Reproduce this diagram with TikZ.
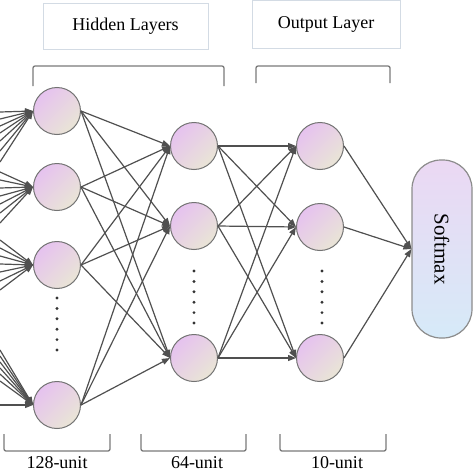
\documentclass[tikz,border=0pt]{standalone}
\usepackage{fontspec}
\setmainfont{Liberation Serif}
\usetikzlibrary{arrows.meta}
\definecolor{nTop}{HTML}{E6C2EF}
\definecolor{nBot}{HTML}{E9E5D6}
\definecolor{sTop}{HTML}{EBD8F3}
\definecolor{sBot}{HTML}{D6EAF8}
\definecolor{lineC}{HTML}{505050}
\definecolor{brC}{HTML}{7A7A7A}
\definecolor{boxC}{HTML}{D3DBE4}
\begin{document}
\begin{tikzpicture}[x=1pt,y=-1pt,
  neuron/.style={circle, draw=black!55, line width=1pt, minimum size=47pt, inner sep=0pt,
    top color=nTop, bottom color=nBot, shading angle=45},
  conn/.style={draw=lineC, line width=1.2pt, -{Triangle[length=8pt,width=6pt]}},
  bracketline/.style={draw=brC, line width=1.3pt, rounded corners=2pt},
  titlebox/.style={draw=boxC, line width=1pt, fill=white, inner sep=0pt},
  lbl/.style={font=\fontsize{18}{20}\selectfont, inner sep=0pt},
  softbox/.style={draw=black!45, line width=1.2pt, rounded corners=29pt, minimum width=60pt,
    minimum height=178pt, inner sep=0pt, top color=sTop, bottom color=sBot},
  dotnode/.style={circle, fill=black!80, minimum size=3.2pt, inner sep=0pt}
]
\fill[white] (0,0) rectangle (474,474);
\useasboundingbox (0,0) rectangle (474,474);

% title boxes
\node[titlebox, minimum width=165pt, minimum height=46pt] (hbox) at (125.5,26) {};
\node[lbl] (htxt) at (hbox) {Hidden Layers};
\node[titlebox, minimum width=148pt, minimum height=48pt] (obox) at (326,24) {};
\node[lbl] (otxt) at (obox) {Output Layer};

% top brackets
\draw[bracketline] (33,86) -- (33,66) -- (224,66) -- (224,86);
\draw[bracketline] (256,83) -- (256,66) -- (390,66) -- (390,83);

% bottom brackets
\draw[bracketline] (4,434) -- (4,451) -- (110,451) -- (110,434);
\draw[bracketline] (141,434) -- (141,451) -- (246,451) -- (246,434);
\draw[bracketline] (280,434) -- (280,451) -- (386,451) -- (386,434);
\node[lbl] (l1) at (57,463) {128-unit};
\node[lbl] (l2) at (197,463) {64-unit};
\node[lbl] (l3) at (337,463) {10-unit};

% neurons
\node[neuron] (a1) at (57,111) {};
\node[neuron] (a2) at (57,187) {};
\node[neuron] (a3) at (57,265) {};
\node[neuron] (a4) at (57,405) {};
\node[neuron] (b1) at (194,146) {};
\node[neuron] (b2) at (194,226) {};
\node[neuron] (b3) at (194,358) {};
\node[neuron] (c1) at (320,146) {};
\node[neuron] (c2) at (320,227) {};
\node[neuron] (c3) at (320,358) {};

% softmax
\node[softbox] (s) at (442,249) {};
\node[rotate=-90, font=\fontsize{21}{23}\selectfont, inner sep=0pt] (stxt) at (s) {Softmax};

% dots
\foreach \i in {0,...,5} {
  \node[dotnode] (da\i) at (57,{298+10.4*\i}) {};
  \node[dotnode] (db\i) at (194,{271+10.4*\i}) {};
  \node[dotnode] (dc\i) at (322,{271+10.4*\i}) {};
}

% input lines
\foreach \y [count=\k] in {112,119,126,133,141,151,162} {
  \coordinate (ia\k) at (0,\y);
  \draw[conn] (ia\k) -- (a1.west);
}
\foreach \y [count=\k] in {172,180,188,196,204,213,223} {
  \coordinate (ib\k) at (0,\y);
  \draw[conn] (ib\k) -- (a2.west);
}
\foreach \y [count=\k] in {240,248,256,264,272,281,290} {
  \coordinate (ic\k) at (0,\y);
  \draw[conn] (ic\k) -- (a3.west);
}
\foreach \y [count=\k] in {350,356,362,368,374,381,405} {
  \coordinate (id\k) at (0,\y);
  \draw[conn] (id\k) -- (a4.west);
}

% layer connections
\foreach \src in {a1,a2,a3,a4} {
  \foreach \dst in {b1,b2,b3} {
    \draw[conn] (\src.east) -- (\dst.west);
  }
}
\foreach \src in {b1,b2,b3} {
  \foreach \dst in {c1,c2,c3} {
    \draw[conn] (\src.east) -- (\dst.west);
  }
}
\foreach \src in {c1,c2,c3} {
  \draw[conn] (\src.east) -- (s.west);
}
\end{tikzpicture}
\end{document}
